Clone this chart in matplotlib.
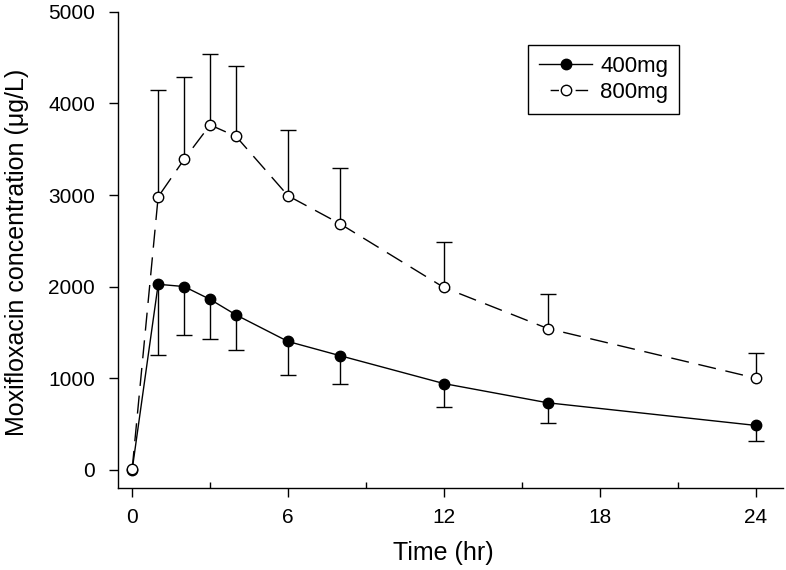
import numpy as np
import matplotlib
matplotlib.use("Agg")
import matplotlib.pyplot as plt
from matplotlib.ticker import MultipleLocator
from matplotlib.lines import Line2D

plt.rcParams["font.family"] = ["Liberation Sans", "DejaVu Sans"]

# sampling times (hr)
time_hr = [0, 1, 2, 3, 4, 6, 8, 12, 16, 24]

# 400 mg: mean and lower end of the error bar
conc_400 = [0, 2025, 2000, 1860, 1690, 1400, 1245, 940, 730, 483]
low_400 = [0, 1255, 1470, 1432, 1305, 1030, 935, 687, 513, 316]

# 800 mg: mean and upper end of the error bar
conc_800 = [8, 2980, 3390, 3766, 3640, 2992, 2686, 1990, 1541, 1000]
high_800 = [8, 4144, 4293, 4540, 4406, 3708, 3297, 2486, 1916, 1272]

fig = plt.figure(figsize=(7.86, 5.70), dpi=100)
ax = fig.add_axes([0.150, 0.144, 0.846, 0.835])

t = np.array(time_hr)
c4 = np.array(conc_400)
l4 = np.array(low_400)
c8 = np.array(conc_800)
h8 = np.array(high_800)

# one-sided error bars: down for 400 mg, up for 800 mg
m4 = l4 < c4
m8 = h8 > c8
ax.vlines(t[m4], l4[m4], c4[m4], color="black", lw=1.0, zorder=2)
ax.vlines(t[m8], c8[m8], h8[m8], color="black", lw=1.0, zorder=2)
ax.plot(t[m4], l4[m4], ls="none", marker="_", ms=11, mew=1.0, color="black", zorder=2)
ax.plot(t[m8], h8[m8], ls="none", marker="_", ms=11, mew=1.0, color="black", zorder=2)

ax.plot(t, c4, "-", color="black", lw=1.0, marker="o", ms=7.5,
        mfc="black", mec="black", zorder=3)
ax.plot(t, c8, color="black", lw=1.0, dashes=(13, 7), marker="o", ms=7.5,
        mfc="white", mec="black", mew=1.0, zorder=4)

ax.set_xlim(-0.55, 25.05)
ax.set_ylim(-200, 5000)
ax.xaxis.set_major_locator(MultipleLocator(6))
ax.xaxis.set_minor_locator(MultipleLocator(3))
ax.yaxis.set_major_locator(MultipleLocator(1000))

ax.spines["top"].set_visible(False)
ax.spines["right"].set_visible(False)
for s in ("left", "bottom"):
    ax.spines[s].set_linewidth(1.0)

ax.tick_params(axis="both", which="major", direction="out", length=6.5, width=1.0,
               labelsize=15)
ax.tick_params(axis="x", which="major", pad=8)
ax.tick_params(axis="y", which="major", pad=10)
ax.tick_params(axis="x", which="minor", direction="in", length=4, width=1.0)

ax.set_xlabel("Time (hr)", fontsize=18)
ax.xaxis.set_label_coords(0.4895, -0.111)
ax.set_ylabel("Moxifloxacin concentration (\u03bcg/L)", fontsize=18)
ax.yaxis.set_label_coords(-0.134, 0.494)

# legend handles, the dashed one with the short dash look of the original
h400 = Line2D([], [], color="black", lw=1.0, marker="o", ms=7.5, mfc="black")
h800 = Line2D([], [], color="black", lw=1.0, marker="o", ms=7.5, mfc="white",
              linestyle=(0, (0.01, 8, 6, 12, 9, 10)))
leg = ax.legend([h400, h800], ["400mg", "800mg"], loc="upper left",
                bbox_to_anchor=(0.6165, 0.9307), borderaxespad=0, fontsize=16,
                frameon=True, fancybox=False, edgecolor="black", framealpha=1,
                handlelength=2.4, borderpad=0.5, labelspacing=0.2,
                handletextpad=0.35)
leg.get_frame().set_linewidth(1.0)

fig.savefig("out.png", dpi=100)
